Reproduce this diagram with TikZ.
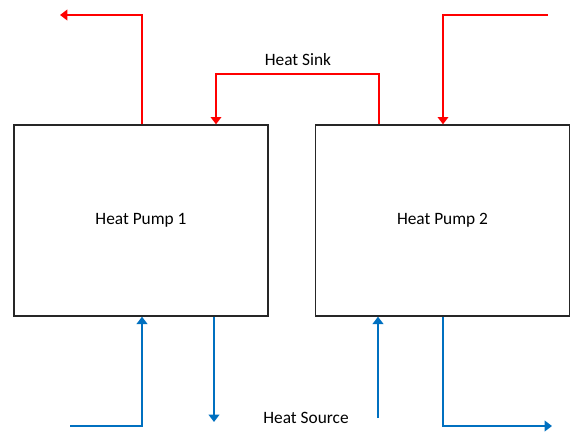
\documentclass[tikz,border=0pt]{standalone}
\usepackage{fontspec}
\setmainfont{Carlito}
\usetikzlibrary{positioning,calc,arrows.meta}
\definecolor{sinkred}{RGB}{255,0,0}
\definecolor{srcblue}{RGB}{0,112,192}

\begin{document}
\begin{tikzpicture}[x=0.75pt,y=-0.75pt,
    pump/.style={rectangle,draw=black!85,line width=1pt,minimum width=190.5pt,minimum height=143.25pt,inner sep=0pt,font=\fontsize{13}{15}\selectfont},
    sink/.style={draw=sinkred,line width=1.1pt,-{Triangle[width=8pt,length=5.5pt]}},
    source/.style={draw=srcblue,line width=1.1pt,-{Triangle[width=8pt,length=5.5pt]}},
    lbl/.style={font=\fontsize{13}{15}\selectfont,inner sep=1pt}]

\useasboundingbox (0,0) rectangle (571,432);

\node[pump] (hp1) at (141,220.5) {Heat Pump 1};
\node[pump] (hp2) at (442.5,220.5) {Heat Pump 2};

% heat sink side
\coordinate (sinkout) at (60,15);
\coordinate (sinkup) at (142,15);
\coordinate (sinkR) at (379,74);
\coordinate (sinkL) at (216,74);
\coordinate (sinkin) at (548,15);
\coordinate (sinkdown) at (443,15);

\draw[sink] (hp1.north -| sinkup) -- (sinkup) -- (sinkout);
\draw[sink] (hp2.north -| sinkR) -- (sinkR) -- (sinkL) -- (hp1.north -| sinkL);
\draw[sink] (sinkin) -- (sinkdown) -- (hp2.north -| sinkdown);

\node[lbl] (sinklbl) at (298,60) {Heat Sink};

% heat source side
\coordinate (srcin1) at (70,426);
\coordinate (srcup1) at (142,426);
\coordinate (srcout1) at (214,422);
\coordinate (srcin2) at (378,418);
\coordinate (srcturn) at (443,426);
\coordinate (srcout2) at (552,426);

\draw[source] (srcin1) -- (srcup1) -- (hp1.south -| srcup1);
\draw[source] (hp1.south -| srcout1) -- (srcout1);
\draw[source] (srcin2) -- (hp2.south -| srcin2);
\draw[source] (hp2.south -| srcturn) -- (srcturn) -- (srcout2);

\node[lbl] (srclbl) at (306,418) {Heat Source};

\end{tikzpicture}
\end{document}
